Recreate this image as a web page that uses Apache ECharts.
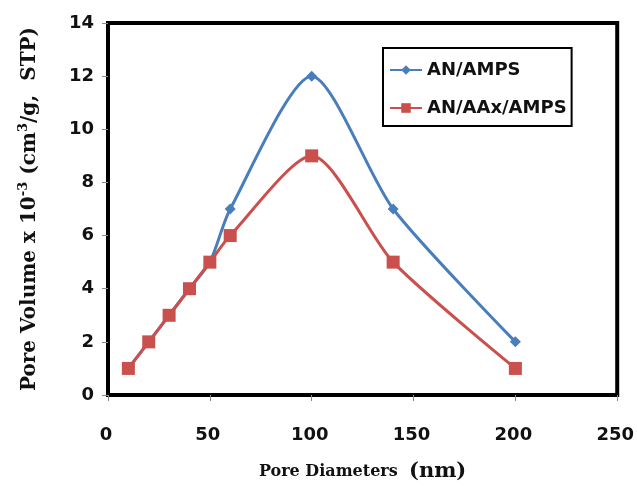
<!DOCTYPE html>
<html>
<head>
<meta charset="utf-8">
<script src="https://cdn.jsdelivr.net/npm/echarts@6/dist/echarts.min.js"></script>
<style>html,body{margin:0;padding:0;background:#fff}#c{width:637px;height:487px}</style>
</head>
<body>
<div id="c"></div>
<script>
const seriesNames = ['AN/AMPS', 'AN/AAx/AMPS'];
const poreDiameters = [10, 20, 30, 40, 50, 60, 100, 140, 200];
const anAmps = [1, 2, 3, 4, 5, 7, 12, 7, 2];
const anAaxAmps = [1, 2, 3, 4, 5, 6, 9, 5, 1];
const xTicks = [0, 50, 100, 150, 200, 250];
const yTicks = [0, 2, 4, 6, 8, 10, 12, 14];

const pair = (xs, ys) => xs.map((x, i) => [x, ys[i]]);
const chart = echarts.init(document.getElementById('c'));
const labelFont = {fontFamily: 'DejaVu Sans, sans-serif', fontWeight: 'bold', fontSize: 18, color: '#111'};
const serif = 'DejaVu Serif, serif';
chart.setOption({
  animation: false,
  backgroundColor: '#fff',
  grid: {left: 108, right: 19, top: 23, bottom: 91, show: true, borderColor: '#000', borderWidth: 4},
  legend: {
    orient: 'vertical', left: 383, top: 48,
    padding: [13, 5, 9, 6], itemGap: 20, itemWidth: 32, itemHeight: 12,
    borderColor: '#000', borderWidth: 2, backgroundColor: '#fff',
    textStyle: {fontFamily: 'DejaVu Sans, sans-serif', fontWeight: 'bold', fontSize: 18, color: '#111'},
    data: seriesNames
  },
  xAxis: {
    type: 'value', min: xTicks[0], max: xTicks[xTicks.length - 1], interval: 50,
    splitLine: {show: false},
    axisLine: {show: true, lineStyle: {color: '#000', width: 4}},
    axisTick: {show: true, inside: false, length: 6, lineStyle: {color: '#888', width: 1}},
    axisLabel: Object.assign({margin: 31, padding: [0, 4, 0, 0]}, labelFont),
    name: 'Pore Diameters  {big|(nm)}', nameLocation: 'middle', nameGap: 66,
    nameTextStyle: {fontFamily: serif, fontWeight: 'bold', fontSize: 16, color: '#111',
      rich: {big: {fontFamily: serif, fontWeight: 'bold', fontSize: 21, color: '#111'}}}
  },
  yAxis: {
    type: 'value', min: yTicks[0], max: yTicks[yTicks.length - 1], interval: 2,
    splitLine: {show: false},
    axisLine: {show: true, lineStyle: {color: '#000', width: 4}},
    axisTick: {show: true, inside: false, length: 6, lineStyle: {color: '#888', width: 1}},
    axisLabel: Object.assign({margin: 14}, labelFont),
    name: 'Pore Volume x 10{sup|-3} (cm{sup|3}/g,  STP)', nameLocation: 'middle', nameGap: 66, nameRotate: 90,
    nameTextStyle: {fontFamily: serif, fontWeight: 'bold', fontSize: 20, color: '#111',
      rich: {sup: {fontFamily: serif, fontWeight: 'bold', fontSize: 13, verticalAlign: 'top', padding: [0, 0, 12, 0], color: '#111'}}}
  },
  series: [
    {name: seriesNames[0], type: 'line', smooth: 0.25, data: pair(poreDiameters, anAmps),
     symbol: 'diamond', symbolSize: 11, lineStyle: {color: '#4A7EBB', width: 3},
     itemStyle: {color: '#4A7EBB'}},
    {name: seriesNames[1], type: 'line', smooth: 0.25, data: pair(poreDiameters, anAaxAmps),
     symbol: 'rect', symbolSize: 13, lineStyle: {color: '#C9504D', width: 3},
     itemStyle: {color: '#C9504D'}}
  ]
});
</script>
</body>
</html>
